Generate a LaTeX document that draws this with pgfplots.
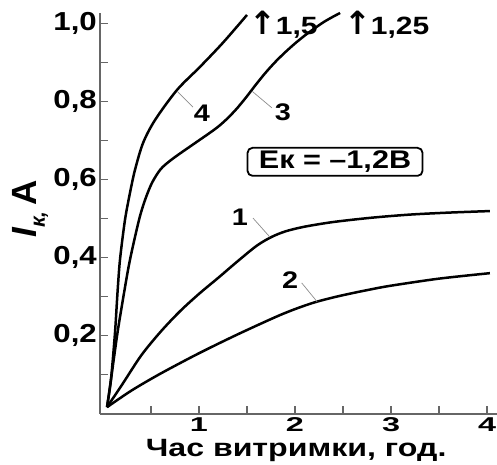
\documentclass[border=0pt]{standalone}
\usepackage{pgfplots}
\pgfplotsset{compat=1.18}
\usepackage{fontspec}
\usepackage{graphicx}
\setmainfont{Liberation Sans}[FakeStretch=1.2]
\newfontfamily\plainfont{Liberation Sans}
\newfontfamily\arrowfont{DejaVu Sans}
\newcommand{\xt}[1]{\scalebox{1.35}[1]{#1}}
\begin{document}
\begin{tikzpicture}
\begin{axis}[
  at={(0,0)}, anchor=south west,
  scale only axis, width=397pt, height=400.8pt,
  xmin=-0.031, xmax=4.104, ymin=0, ymax=1.026,
  axis lines=left,
  axis line style={-, draw=black!60, line width=1.6pt},
  tick align=inside,
  major tick length=8pt, minor tick length=8pt,
  every tick/.style={draw=black!60, line width=1.2pt},
  xtick={1,2,3,4}, xticklabels={\xt{1},\xt{2},\xt{3},\xt{4}},
  minor xtick={0.5,1.5,2.5,3.5},
  ytick={0.2,0.4,0.6,0.8,1.0},
  yticklabels={{0,2},{0,4},{0,6},{0,8},{1,0}},
  minor ytick={0.1,0.3,0.5,0.7,0.9},
  /pgf/number format/assume math mode=true,
  xticklabel style={font=\bfseries\fontsize{20}{20}\selectfont, inner sep=0pt, yshift=-4pt},
  yticklabel style={font=\bfseries\fontsize{26}{26}\selectfont, inner sep=0pt, xshift=-3pt},
  xlabel={\scalebox{1.07}[1]{Час витримки, год.}},
  xlabel style={font=\bfseries\fontsize{25}{25}\selectfont, at={(axis description cs:0.494,-0.1075)}, anchor=base, inner sep=0pt},
  ylabel={{\plainfont\bfseries\fontsize{35}{35}\selectfont\itshape I\raisebox{-0.25em}{\fontsize{21}{21}\selectfont к,}\upshape\,A}},
  ylabel style={at={(axis description cs:-0.176,0.511)}, anchor=center, inner sep=0pt},
  clip=false,
]
% curve 1
\addplot[black, line width=2.5pt, smooth] coordinates {
(0.042,0.017)(0.2,0.075)(0.4,0.15)(0.6,0.21)(0.8,0.262)(1.0,0.307)(1.2,0.348)(1.4,0.39)(1.6,0.43)(1.75,0.452)(1.9,0.467)(2.1,0.479)(2.4,0.491)(2.8,0.502)(3.2,0.51)(3.6,0.515)(4.03,0.519)};
% curve 2
\addplot[black, line width=2.5pt, smooth] coordinates {
(0.042,0.017)(0.3,0.06)(0.6,0.103)(1.0,0.155)(1.4,0.203)(1.8,0.248)(2.0,0.268)(2.2,0.285)(2.4,0.298)(2.6,0.309)(2.8,0.319)(3.0,0.328)(3.5,0.346)(4.03,0.36)};
% curve 3
\addplot[black, line width=2.5pt, smooth] coordinates {
(0.042,0.017)(0.083,0.087)(0.151,0.207)(0.219,0.309)(0.281,0.394)(0.375,0.496)(0.4375,0.547)(0.51,0.591)(0.6,0.626)(0.7,0.648)(0.8,0.666)(0.9,0.683)(1.0,0.70)(1.1,0.717)(1.2,0.735)(1.3,0.757)(1.4,0.783)(1.5,0.813)(1.6,0.845)(1.7,0.875)(1.8,0.902)(1.9,0.926)(2.0,0.948)(2.1,0.968)(2.2,0.986)(2.3,1.003)(2.4,1.017)(2.47,1.026)};
% curve 4
\addplot[black, line width=2.5pt, smooth] coordinates {
(0.042,0.017)(0.083,0.087)(0.125,0.207)(0.151,0.309)(0.177,0.394)(0.229,0.496)(0.281,0.565)(0.333,0.624)(0.417,0.693)(0.542,0.752)(0.771,0.829)(1.01,0.888)(1.25,0.95)(1.5,1.021)};
% leader lines
\draw[black!45, line width=0.7pt] (axis cs:0.78,0.824) -- (axis cs:0.9375,0.785);
\draw[black!45, line width=0.7pt] (axis cs:1.552,0.826) -- (axis cs:1.76,0.783);
\draw[black!45, line width=0.7pt] (axis cs:1.74,0.452) -- (axis cs:1.5625,0.501);
\draw[black!45, line width=0.7pt] (axis cs:2.23,0.287) -- (axis cs:2.07,0.335);
% labels
\node[font=\bfseries\fontsize{24}{24}\selectfont, inner sep=0pt] at (axis cs:1.03,0.77) {4};
\node[font=\bfseries\fontsize{24}{24}\selectfont, inner sep=0pt] at (axis cs:1.875,0.773) {3};
\node[font=\bfseries\fontsize{24}{24}\selectfont, inner sep=0pt] at (axis cs:1.427,0.504) {1};
\node[font=\bfseries\fontsize{24}{24}\selectfont, inner sep=0pt] at (axis cs:1.95,0.343) {2};
\node[font=\bfseries\fontsize{25}{25}\selectfont, inner sep=0pt, anchor=base west] at (axis cs:1.52,0.971) {{\arrowfont\bfseries\fontsize{32}{32}\selectfont ↑}1,5};
\node[font=\bfseries\fontsize{25}{25}\selectfont, inner sep=0pt, anchor=base west] at (axis cs:2.51,0.971) {{\arrowfont\bfseries\fontsize{32}{32}\selectfont ↑}1,25};
\node[draw=black, line width=1.8pt, rounded corners=5pt, inner sep=0pt, minimum width=175pt, minimum height=28pt, font=\bfseries\fontsize{25.5}{25.5}\selectfont] at (axis cs:2.417,0.645) {Ек = –1,2В};
\end{axis}
\pgfresetboundingbox
\path[use as bounding box] (-100pt,-50.2pt) rectangle (397pt,413.8pt);
\end{tikzpicture}
\end{document}
